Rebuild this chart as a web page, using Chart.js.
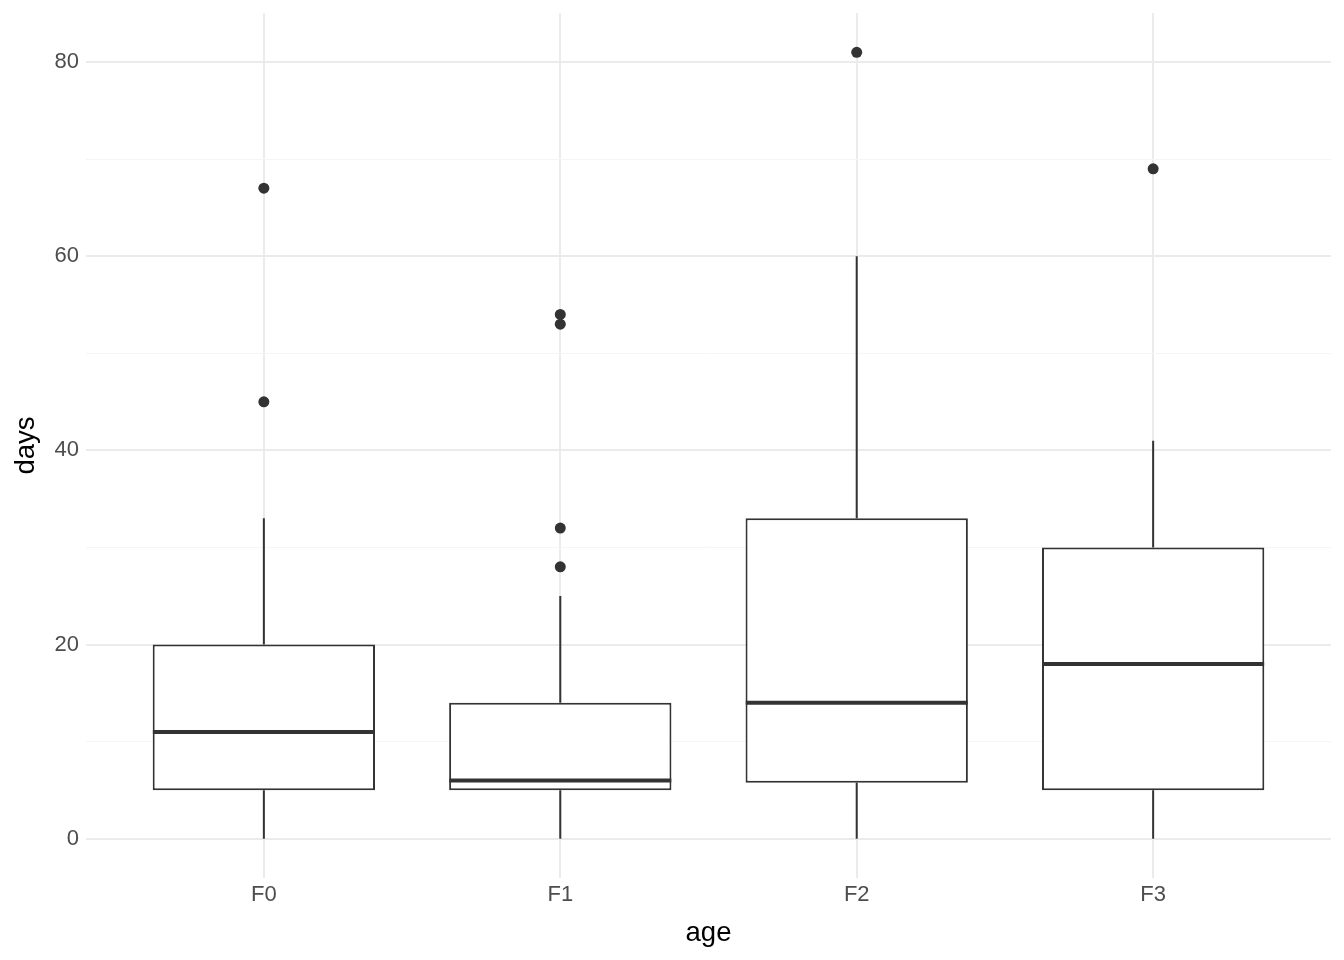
<!DOCTYPE html>
<html><head><meta charset="utf-8">
<script src="https://cdn.jsdelivr.net/npm/chart.js@4"></script>
<style>html,body{margin:0;padding:0;background:#fff}#wrap{width:1344px;height:960px;position:relative}</style>
</head><body><div id="wrap"><canvas id="c"></canvas></div>
<script>
// ---- data ----
const categories = ['F0', 'F1', 'F2', 'F3'];
const lowerWhisker = [0, 0, 0, 0];
const q1 = [5, 5, 5.75, 5];
const median = [11, 6, 14, 18];
const q3 = [20, 14, 33, 30];
const upperWhisker = [33, 25, 60, 41];
const outliers = [[45, 67], [28, 32, 53, 54], [81], [69]];
const yTickValues = [0, 10, 20, 30, 40, 50, 60, 70, 80];
const yLabelStep = 20;

// ---- build datasets ----
const ink = '#333333';
const boxData = categories.map((c, i) => ({ x: i, y: [q1[i], q3[i]] }));
const whiskerData = [];
categories.forEach((c, i) => {
  whiskerData.push({ x: i, y: q3[i] }, { x: i, y: upperWhisker[i] }, { x: i, y: null });
  whiskerData.push({ x: i, y: lowerWhisker[i] }, { x: i, y: q1[i] }, { x: i, y: null });
});
const medianData = categories.map((c, i) => ({ x: i, y: median[i] }));
const outlierData = [];
outliers.forEach((arr, i) => arr.forEach(v => outlierData.push({ x: i, y: v })));

const FONT = "'Liberation Sans', Arial, Helvetica, sans-serif";

new Chart(document.getElementById('c'), {
  type: 'bar',
  data: {
    datasets: [
      {
        type: 'line', label: 'whiskers', data: whiskerData,
        borderColor: ink, borderWidth: 2, pointRadius: 0, spanGaps: false,
        fill: false, order: 3
      },
      {
        type: 'bar', label: 'box', data: boxData, grouped: false,
        backgroundColor: '#FFFFFF', borderColor: ink, borderWidth: 2,
        borderSkipped: false, barPercentage: 0.75, categoryPercentage: 1, order: 2
      },
      {
        type: 'line', label: 'median', data: medianData, showLine: false,
        pointStyle: 'line', pointRadius: 111, pointBorderWidth: 4,
        pointBorderColor: ink, pointBackgroundColor: ink, pointHoverRadius: 111, order: 1
      },
      {
        type: 'line', label: 'outliers', data: outlierData, showLine: false,
        pointStyle: 'circle', pointRadius: 5.5, pointBorderWidth: 0,
        pointBackgroundColor: ink, pointBorderColor: ink, order: 0
      }
    ]
  },
  options: {
    responsive: true,
    maintainAspectRatio: false,
    animation: false,
    events: [],
    layout: { autoPadding: false, padding: { top: 13, right: 13, left: 0, bottom: 0 } },
    plugins: { legend: { display: false }, tooltip: { enabled: false } },
    scales: {
      x: {
        type: 'linear', min: -0.6, max: 3.6, offset: false,
        afterBuildTicks: s => { s.ticks = categories.map((c, i) => ({ value: i })); },
        afterFit: s => { s.height = 82; s.paddingLeft = 0; s.paddingRight = 0; },
        grid: { color: '#EBEBEB', lineWidth: 2, drawTicks: false, offset: false },
        border: { display: false },
        ticks: {
          padding: 4, color: '#4D4D4D', font: { family: FONT, size: 22 },
          callback: v => categories[v]
        },
        title: {
          display: true, text: 'age', color: '#000000',
          font: { family: FONT, size: 27.5 }, padding: { top: 0, bottom: 10.5 }
        }
      },
      y: {
        type: 'linear', min: -4.05, max: 85.05,
        afterBuildTicks: s => { s.ticks = yTickValues.map(v => ({ value: v })); },
        afterFit: s => { s.width = 86; s.paddingTop = 0; s.paddingBottom = 0; },
        grid: {
          drawTicks: false,
          color: ctx => (ctx.tick && ctx.tick.value % yLabelStep === 0) ? '#EBEBEB' : '#F5F5F5',
          lineWidth: ctx => (ctx.tick && ctx.tick.value % yLabelStep === 0) ? 2 : 1
        },
        border: { display: false },
        ticks: {
          padding: 7, color: '#4D4D4D', font: { family: FONT, size: 22 },
          callback: v => (v % yLabelStep === 0 ? String(v) : '')
        },
        title: {
          display: true, text: 'days', color: '#000000',
          font: { family: FONT, size: 27.5 }, padding: { top: 10, bottom: 0 }
        }
      }
    }
  }
});
</script>
</body></html>
